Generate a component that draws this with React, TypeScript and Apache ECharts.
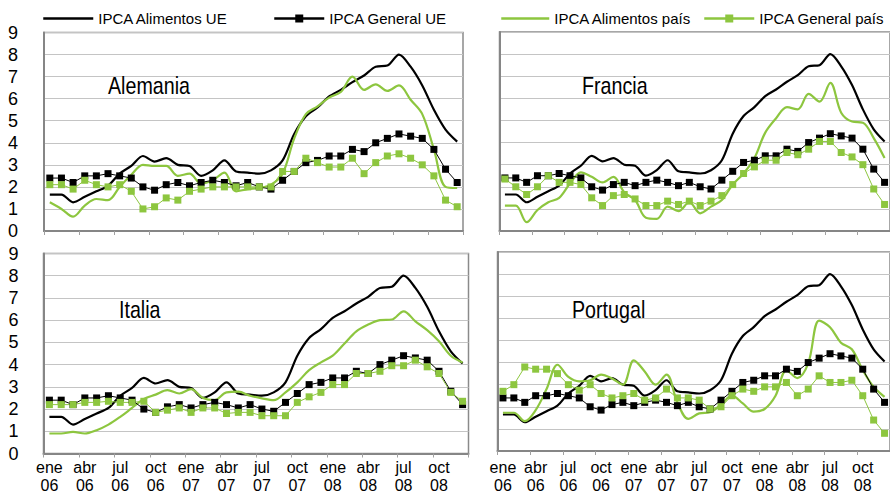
import React, { useEffect, useRef } from "react";
import * as echarts from "echarts";

const MONTHS = [
  "ene 06", "feb 06", "mar 06", "abr 06", "may 06", "jun 06", "jul 06", "ago 06", "sep 06", "oct 06", "nov 06", "dic 06",
  "ene 07", "feb 07", "mar 07", "abr 07", "may 07", "jun 07", "jul 07", "ago 07", "sep 07", "oct 07", "nov 07", "dic 07",
  "ene 08", "feb 08", "mar 08", "abr 08", "may 08", "jun 08", "jul 08", "ago 08", "sep 08", "oct 08", "nov 08", "dic 08",
];

const TICK_LABELS = [
  "ene\n06", "abr\n06", "jul\n06", "oct\n06",
  "ene\n07", "abr\n07", "jul\n07", "oct\n07",
  "ene\n08", "abr\n08", "jul\n08", "oct\n08",
];

const SERIES_NAMES = ["IPCA Alimentos UE", "IPCA General UE", "IPCA Alimentos país", "IPCA General país"];
const COUNTRIES = ["Alemania", "Francia", "Italia", "Portugal"];

const EU_FOOD = [1.65, 1.65, 1.3, 1.55, 1.8, 2.05, 2.6, 2.95, 3.4, 3.15, 3.3, 3.0, 2.95, 2.5, 2.75, 3.2, 2.7, 2.65, 2.6, 2.75, 3.2, 4.4, 5.2, 5.6, 6.1, 6.4, 6.75, 7.05, 7.45, 7.5, 8.0, 7.45, 6.6, 5.5, 4.6, 4.05];
const EU_GENERAL = [2.4, 2.4, 2.2, 2.5, 2.5, 2.6, 2.5, 2.4, 2.0, 1.85, 2.1, 2.2, 2.05, 2.2, 2.3, 2.2, 2.05, 2.2, 2.0, 1.9, 2.3, 2.7, 3.1, 3.2, 3.4, 3.4, 3.7, 3.6, 4.0, 4.2, 4.4, 4.3, 4.2, 3.7, 2.8, 2.2];

const DE_FOOD = [1.3, 1.0, 0.65, 1.15, 1.45, 1.4, 2.0, 2.55, 3.0, 2.95, 2.95, 2.5, 2.6, 2.15, 2.3, 2.65, 1.8, 1.9, 1.95, 2.1, 2.6, 4.2, 5.3, 5.65, 6.05, 6.3, 7.0, 6.4, 6.65, 6.35, 6.6, 5.95, 5.3, 3.7, 2.0, 1.95];
const DE_GENERAL = [2.1, 2.1, 1.9, 2.3, 2.1, 2.0, 2.1, 1.8, 1.0, 1.1, 1.5, 1.4, 1.8, 1.9, 2.0, 2.0, 2.0, 2.0, 2.0, 2.0, 2.7, 2.7, 3.3, 3.1, 2.9, 2.9, 3.3, 2.6, 3.1, 3.4, 3.5, 3.3, 3.0, 2.5, 1.4, 1.1];

const FR_FOOD = [1.15, 1.15, 0.4, 0.95, 1.3, 1.5, 2.15, 2.65, 2.45, 2.2, 2.45, 1.75, 1.4, 0.6, 0.55, 1.1, 0.9, 1.3, 0.8, 1.1, 1.4, 2.1, 2.6, 3.3, 4.45, 5.1, 5.6, 5.5, 6.2, 5.85, 6.7, 5.35, 4.95, 4.9, 4.2, 3.3];
const FR_GENERAL = [2.35, 2.0, 1.65, 2.0, 2.5, 2.2, 2.2, 2.1, 1.5, 1.15, 1.6, 1.65, 1.45, 1.15, 1.15, 1.35, 1.2, 1.35, 1.15, 1.35, 1.6, 2.1, 2.6, 2.9, 3.2, 3.2, 3.55, 3.45, 3.7, 4.05, 4.05, 3.55, 3.35, 3.0, 1.9, 1.2];

const IT_FOOD = [0.9, 0.9, 0.97, 0.9, 1.05, 1.3, 1.65, 2.05, 2.45, 2.65, 2.85, 2.7, 2.9, 2.5, 2.4, 2.75, 2.78, 2.6, 2.48, 2.4, 2.75, 3.2, 3.75, 4.1, 4.4, 4.95, 5.5, 5.8, 6.0, 6.03, 6.4, 5.95, 5.55, 5.05, 4.4, 4.1];
const IT_GENERAL = [2.2, 2.2, 2.2, 2.3, 2.3, 2.35, 2.3, 2.3, 2.35, 1.85, 1.95, 2.05, 1.85, 2.05, 2.05, 1.8, 1.85, 1.85, 1.7, 1.7, 1.7, 2.3, 2.55, 2.75, 3.1, 3.1, 3.6, 3.6, 3.7, 3.95, 3.95, 4.2, 3.9, 3.6, 2.75, 2.35];

const PT_FOOD = [1.73, 1.73, 1.35, 1.85, 2.8, 3.9, 3.35, 3.15, 3.2, 3.45, 3.28, 3.0, 4.1, 3.6, 3.0, 3.45, 2.2, 1.45, 1.7, 1.75, 2.1, 2.5, 2.15, 1.78, 1.9, 2.5, 3.65, 3.3, 3.96, 5.9, 5.6, 4.9, 4.6, 3.66, 2.9, 2.45];
const PT_GENERAL = [2.7, 3.0, 3.8, 3.7, 3.7, 3.5, 3.0, 2.75, 3.0, 2.6, 2.4, 2.5, 2.6, 2.3, 2.4, 2.8, 2.4, 2.4, 2.3, 1.9, 2.0, 2.5, 2.8, 2.7, 2.9, 2.9, 3.1, 2.5, 2.8, 3.4, 3.1, 3.1, 3.2, 2.5, 1.4, 0.8];

const COUNTRY_FOOD = [DE_FOOD, FR_FOOD, IT_FOOD, PT_FOOD];
const COUNTRY_GENERAL = [DE_GENERAL, FR_GENERAL, IT_GENERAL, PT_GENERAL];

const GREEN = "#8DC63F";
const SANS = "'Liberation Sans', Arial, sans-serif";

const GRIDS = [
  { left: 44, top: 32.5, width: 419, height: 198.5 },
  { left: 499.5, top: 32, width: 401.5, height: 199 },
  { left: 43.5, top: 253.5, width: 425, height: 200 },
  { left: 497.5, top: 252, width: 395, height: 199 },
];
const LABEL_POS = [
  { x: 108, y: 86 },
  { x: 582, y: 86 },
  { x: 119, y: 310 },
  { x: 572, y: 310 },
];

function buildOption() {
  const grid = GRIDS.map((g) => ({
    ...g,
    show: true,
    borderColor: "#8a8a8a",
    borderWidth: 1.5,
    backgroundColor: "transparent",
  }));

  const xAxis = GRIDS.map((_, p) => ({
    gridIndex: p,
    type: "category",
    data: MONTHS,
    boundaryGap: true,
    axisLine: { show: true, lineStyle: { color: "#868686", width: 2 } },
    axisTick: { show: true, interval: 2, length: 4, lineStyle: { color: "#a0a0a0", width: 1 } },
    axisLabel: {
      show: p >= 2,
      interval: 2,
      showMinLabel: true,
      hideOverlap: false,
      formatter: (_v: string, idx: number) => TICK_LABELS[Math.floor(idx / 3)],
      fontFamily: SANS,
      fontSize: 16,
      lineHeight: 18,
      color: "#000",
      margin: p === 2 ? 5 : 7,
    },
    splitLine: { show: false },
  }));

  const yAxis = GRIDS.map((_, p) => ({
    gridIndex: p,
    type: "value",
    min: 0,
    max: 9,
    interval: 1,
    axisLine: { show: true, lineStyle: { color: "#868686", width: 2 } },
    axisTick: { show: false },
    axisLabel: {
      show: p % 2 === 0,
      fontFamily: SANS,
      fontSize: 18,
      color: "#000",
      margin: p === 0 ? 26 : 25,
    },
    splitLine: { show: true, lineStyle: { color: "#c4c4c4", width: 1 } },
  }));

  const series: any[] = [];
  GRIDS.forEach((_, p) => {
    series.push({
      name: SERIES_NAMES[0], type: "line", xAxisIndex: p, yAxisIndex: p,
      data: EU_FOOD, symbol: "none", smooth: 0.3,
      lineStyle: { color: "#000", width: 2.2 }, itemStyle: { color: "#000" }, z: 3,
    });
    series.push({
      name: SERIES_NAMES[2], type: "line", xAxisIndex: p, yAxisIndex: p,
      data: COUNTRY_FOOD[p], symbol: "none", smooth: 0.35,
      lineStyle: { color: GREEN, width: 2.2 }, itemStyle: { color: GREEN }, z: 3,
    });
    series.push({
      name: SERIES_NAMES[1], type: "line", xAxisIndex: p, yAxisIndex: p,
      data: EU_GENERAL, symbol: "rect", symbolSize: 7,
      lineStyle: { color: "#000", width: 1 }, itemStyle: { color: "#000" }, z: 4,
    });
    series.push({
      name: SERIES_NAMES[3], type: "line", xAxisIndex: p, yAxisIndex: p,
      data: COUNTRY_GENERAL[p], symbol: "rect", symbolSize: 7,
      lineStyle: { color: GREEN, width: 1 }, itemStyle: { color: GREEN }, z: 4,
    });
  });

  const legendBase = {
    top: 11,
    itemHeight: 10,
    padding: 0,
    selectedMode: false,
    textStyle: { fontFamily: SANS, fontSize: 15, color: "#000" },
    lineStyle: { width: 2.5 },
  };
  const legend = [
    { ...legendBase, left: 42, itemWidth: 50, data: [SERIES_NAMES[0]], itemStyle: { opacity: 0 } },
    { ...legendBase, left: 273, itemWidth: 50, data: [SERIES_NAMES[1]] },
    { ...legendBase, left: 500, itemWidth: 48, data: [SERIES_NAMES[2]], itemStyle: { opacity: 0 } },
    { ...legendBase, left: 703, itemWidth: 50, data: [SERIES_NAMES[3]] },
  ];

  const graphic = COUNTRIES.map((name, p) => ({
    type: "text",
    x: LABEL_POS[p].x,
    y: LABEL_POS[p].y,
    scaleX: 0.82,
    z: 10,
    style: {
      text: name,
      fill: "#000",
      font: `24px ${SANS}`,
      verticalAlign: "middle",
      align: "left",
    },
  }));

  return {
    animation: false,
    backgroundColor: "#fff",
    grid,
    xAxis,
    yAxis,
    series,
    legend,
    graphic,
  };
}

export default function App() {
  const ref = useRef<HTMLDivElement>(null);
  useEffect(() => {
    if (!ref.current) return;
    const chart = echarts.init(ref.current, null, { renderer: "svg" });
    chart.setOption(buildOption() as any);
    return () => chart.dispose();
  }, []);
  return (
    <div
      ref={ref}
      style={{ position: "absolute", left: 0, top: 0, width: 890, height: 495, background: "#fff" }}
    />
  );
}
